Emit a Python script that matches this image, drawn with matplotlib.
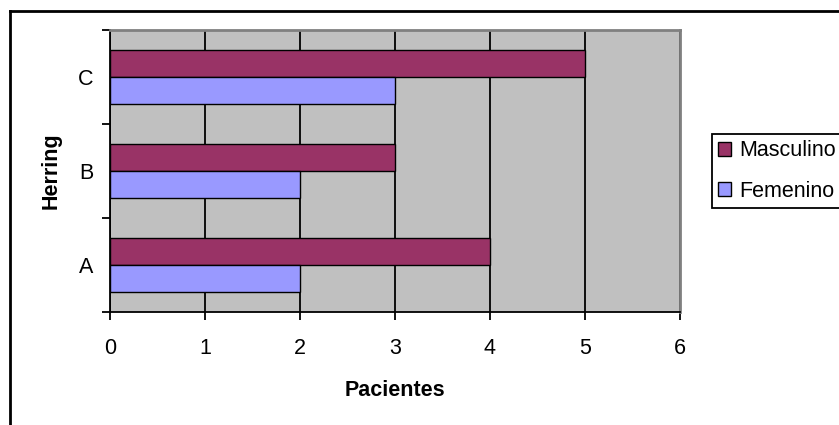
import matplotlib.pyplot as plt
from matplotlib.lines import Line2D
import numpy as np

plt.rcParams['font.family'] = ['Liberation Sans', 'DejaVu Sans']

categorias = ['A', 'B', 'C']
masculino = [4, 3, 5]
femenino = [2, 2, 3]

fs = 15.5

fig = plt.figure(figsize=(8.39, 4.25), dpi=100)
ax = fig.add_axes([110 / 839, 1 - 312 / 425, 570 / 839, 282 / 425])

y = np.arange(len(categorias))
h = 0.29
ax.barh(y + h / 2, masculino, height=h, color='#993366', edgecolor='black',
        linewidth=1, label='Masculino', zorder=3)
ax.barh(y - h / 2, femenino, height=h, color='#9999FF', edgecolor='black',
        linewidth=1, label='Femenino', zorder=3)

ax.set_facecolor('#C0C0C0')
ax.set_xlim(0, 6)
ax.set_ylim(-0.5, 2.5)
ax.set_xticks(range(7))
ax.xaxis.grid(True, color='black', linewidth=1.3, zorder=1)
ax.set_axisbelow(True)

# categorias: etiquetas en el centro, marcas entre grupos
ax.set_yticks([-0.5, 0.5, 1.5, 2.5])
ax.set_yticklabels([])
ax.set_yticks(y, minor=True)
ax.set_yticklabels(categorias, minor=True)
ax.tick_params(axis='y', which='minor', length=0, pad=12, labelsize=fs)
ax.tick_params(axis='y', which='major', length=6, width=1.3, direction='out')
ax.tick_params(axis='x', length=6, width=1.3, direction='out', pad=13, labelsize=fs)

for s in ['top', 'right']:
    ax.spines[s].set_color('#808080')
    ax.spines[s].set_linewidth(2)
for s in ['left', 'bottom']:
    ax.spines[s].set_color('black')
    ax.spines[s].set_linewidth(1.3)

ax.set_xlabel('Pacientes', fontsize=fs, fontweight='bold', labelpad=15)
ax.set_ylabel('Herring', fontsize=fs, fontweight='bold', labelpad=12)

fig.legend(loc='upper left', bbox_to_anchor=(712 / 839, 1 - 134 / 425),
           fontsize=fs, frameon=True, fancybox=False, edgecolor='black',
           framealpha=1, borderpad=0.3, labelspacing=0.9, handlelength=0.6,
           handleheight=0.6, handletextpad=0.35, borderaxespad=0)
fig.legends[0].get_frame().set_linewidth(1.3)

# marco del área del gráfico
fig.add_artist(Line2D([10 / 839, 10 / 839], [0, 1 - 11 / 425], color='black', lw=2,
                      transform=fig.transFigure))
fig.add_artist(Line2D([10 / 839, 1], [1 - 11 / 425, 1 - 11 / 425], color='black', lw=2,
                      transform=fig.transFigure))

fig.savefig('out.png', dpi=100)
